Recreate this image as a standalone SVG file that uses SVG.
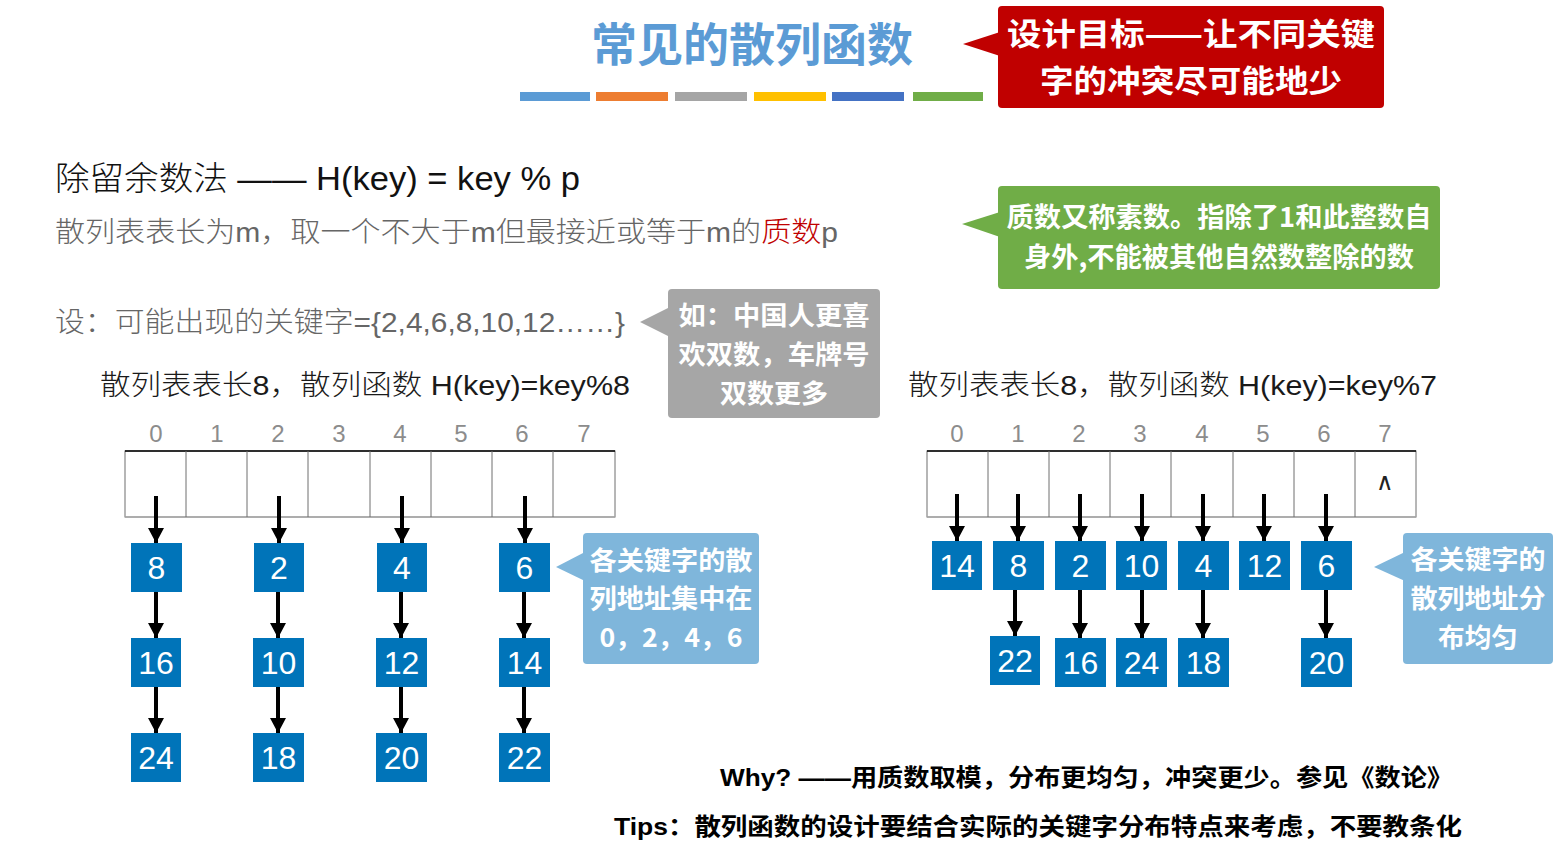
<svg xmlns="http://www.w3.org/2000/svg" width="1560" height="859" viewBox="0 0 1560 859">
<defs>
<marker id="ah" markerUnits="userSpaceOnUse" markerWidth="16" markerHeight="16" refX="15" refY="8" orient="auto">
<path d="M0,0 L15,8 L0,16 z" fill="#000"/>
</marker>
<style>
.cjk{font-family:"Liberation Sans","Noto Sans CJK SC",sans-serif;}
.title{font-family:"Noto Sans CJK SC",sans-serif;font-size:46px;fill:#5B9BD5;font-weight:bold;}
.call{font-family:"Noto Sans CJK SC",sans-serif;font-weight:bold;fill:#fff;text-anchor:middle;}
.idx{font-family:"Liberation Sans",sans-serif;font-size:24px;fill:#8C8C8C;text-anchor:middle;}
.node rect{fill:#0074B9;}
.node text{font-family:"Liberation Sans",sans-serif;font-size:32px;fill:#fff;text-anchor:middle;}
.conn line{stroke:#000;stroke-width:4;marker-end:url(#ah);}
.cell{fill:none;stroke:#6E6E6E;stroke-width:1;}
</style>
</defs>
<rect width="1560" height="859" fill="#fff"/>

<g id="title">
<text class="title" x="752" y="61" text-anchor="middle" textLength="322" lengthAdjust="spacingAndGlyphs">常见的散列函数</text>
<rect x="520" y="92" width="70" height="9" fill="#5B9BD5"/>
<rect x="596" y="92" width="72" height="9" fill="#ED7D31"/>
<rect x="675" y="92" width="72" height="9" fill="#A5A5A5"/>
<rect x="754" y="92" width="72" height="9" fill="#FFC000"/>
<rect x="832" y="92" width="72" height="9" fill="#4472C4"/>
<rect x="913" y="92" width="70" height="9" fill="#70AD47"/>
</g>

<g id="callout-red">
<rect x="998" y="6" width="386" height="102" rx="4" fill="#C00000"/>
<polygon points="963,44 1000,32 1000,56" fill="#C00000"/>
<text class="call" x="1191" y="45" font-size="31" textLength="368" lengthAdjust="spacingAndGlyphs">设计目标——让不同关键</text>
<text class="call" x="1191" y="92" font-size="31" textLength="302" lengthAdjust="spacingAndGlyphs">字的冲突尽可能地少</text>
</g>

<g id="formula">
<text class="cjk" x="55" y="190" font-size="33" fill="#111" font-weight="300" textLength="525" lengthAdjust="spacingAndGlyphs">除留余数法 —— H(key) = key % p</text>
<text class="cjk" x="55" y="242" font-size="28" fill="#666" font-weight="300" textLength="783" lengthAdjust="spacingAndGlyphs">散列表表长为m，取一个不大于m但最接近或等于m的<tspan fill="#C00000">质数</tspan>p</text>
</g>

<g id="callout-green">
<rect x="998" y="186" width="442" height="103" rx="4" fill="#70AD47"/>
<polygon points="962,224 1000,212 1000,237" fill="#70AD47"/>
<text class="call" x="1219" y="227" font-size="27" textLength="425" lengthAdjust="spacingAndGlyphs">质数又称素数。指除了1和此整数自</text>
<text class="call" x="1219" y="267" font-size="27" textLength="390" lengthAdjust="spacingAndGlyphs">身外,不能被其他自然数整除的数</text>
</g>

<g id="keys">
<text class="cjk" x="55" y="332" font-size="28" fill="#666" font-weight="300" textLength="570" lengthAdjust="spacingAndGlyphs">设：可能出现的关键字={2,4,6,8,10,12……}</text>
</g>

<g id="callout-gray">
<rect x="668" y="289" width="212" height="129" rx="4" fill="#A6A6A6"/>
<polygon points="640,322 670,307 670,337" fill="#A6A6A6"/>
<text class="call" x="774" y="325" font-size="26" textLength="191" lengthAdjust="spacingAndGlyphs">如：中国人更喜</text>
<text class="call" x="774" y="364" font-size="26" textLength="191" lengthAdjust="spacingAndGlyphs">欢双数，车牌号</text>
<text class="call" x="774" y="403" font-size="26" textLength="108" lengthAdjust="spacingAndGlyphs">双数更多</text>
</g>

<g id="heading-left">
<text class="cjk" x="100" y="395" font-size="28" fill="#1A1A1A" font-weight="300" textLength="530" lengthAdjust="spacingAndGlyphs">散列表表长8，散列函数 H(key)=key%8</text>
</g>
<g id="heading-right">
<text class="cjk" x="908" y="395" font-size="28" fill="#1A1A1A" font-weight="300" textLength="529" lengthAdjust="spacingAndGlyphs">散列表表长8，散列函数 H(key)=key%7</text>
</g>

<g id="table-left">
<rect class="cell" x="125" y="451" width="490" height="66"/>
<line x1="125" y1="451" x2="615" y2="451" stroke="#000" stroke-width="1.5"/>
<line x1="125" y1="517" x2="615" y2="517" stroke="#AAA" stroke-width="1.5"/>
<path class="cell" d="M186,451V517M247,451V517M308,451V517M370,451V517M431,451V517M492,451V517M553,451V517"/>
<text class="idx" x="156" y="442">0</text>
<text class="idx" x="217" y="442">1</text>
<text class="idx" x="278" y="442">2</text>
<text class="idx" x="339" y="442">3</text>
<text class="idx" x="400" y="442">4</text>
<text class="idx" x="461" y="442">5</text>
<text class="idx" x="522" y="442">6</text>
<text class="idx" x="584" y="442">7</text>
</g>

<g id="table-right">
<rect class="cell" x="927" y="451" width="489" height="66"/>
<line x1="927" y1="451" x2="1416" y2="451" stroke="#000" stroke-width="1.5"/>
<line x1="927" y1="517" x2="1416" y2="517" stroke="#AAA" stroke-width="1.5"/>
<path class="cell" d="M988,451V517M1049,451V517M1110,451V517M1171,451V517M1233,451V517M1294,451V517M1355,451V517"/>
<text class="idx" x="957" y="442">0</text>
<text class="idx" x="1018" y="442">1</text>
<text class="idx" x="1079" y="442">2</text>
<text class="idx" x="1140" y="442">3</text>
<text class="idx" x="1202" y="442">4</text>
<text class="idx" x="1263" y="442">5</text>
<text class="idx" x="1324" y="442">6</text>
<text class="idx" x="1385" y="442">7</text>
<text x="1385" y="490" font-family="DejaVu Sans, sans-serif" font-size="24" font-weight="300" fill="#222" text-anchor="middle">∧</text>
</g>

<g id="connectors" class="conn">
<line x1="156" y1="496" x2="156" y2="543"/>
<line x1="279" y1="496" x2="279" y2="543"/>
<line x1="402" y1="496" x2="402" y2="543"/>
<line x1="525" y1="496" x2="525" y2="543"/>
<line x1="156" y1="592" x2="156" y2="638"/>
<line x1="278" y1="592" x2="278" y2="638"/>
<line x1="401" y1="592" x2="401" y2="638"/>
<line x1="524" y1="592" x2="524" y2="638"/>
<line x1="156" y1="687" x2="156" y2="733"/>
<line x1="278" y1="687" x2="278" y2="733"/>
<line x1="401" y1="687" x2="401" y2="733"/>
<line x1="524" y1="687" x2="524" y2="733"/>
<line x1="957" y1="494" x2="957" y2="541"/>
<line x1="1018" y1="494" x2="1018" y2="541"/>
<line x1="1080" y1="494" x2="1080" y2="541"/>
<line x1="1142" y1="494" x2="1142" y2="541"/>
<line x1="1203" y1="494" x2="1203" y2="541"/>
<line x1="1264" y1="494" x2="1264" y2="541"/>
<line x1="1326" y1="494" x2="1326" y2="541"/>
<line x1="1015" y1="590" x2="1015" y2="636"/>
<line x1="1080" y1="590" x2="1080" y2="638"/>
<line x1="1142" y1="590" x2="1142" y2="638"/>
<line x1="1203" y1="590" x2="1203" y2="638"/>
<line x1="1326" y1="590" x2="1326" y2="638"/>
</g>

<g id="n-l-8" class="node"><rect x="131" y="543" width="51" height="49"/><text x="156.5" y="579">8</text></g>
<g id="n-l-2" class="node"><rect x="254" y="543" width="50" height="49"/><text x="279" y="579">2</text></g>
<g id="n-l-4" class="node"><rect x="377" y="543" width="50" height="49"/><text x="402" y="579">4</text></g>
<g id="n-l-6" class="node"><rect x="499" y="543" width="51" height="49"/><text x="524.5" y="579">6</text></g>
<g id="n-l-16" class="node"><rect x="131" y="638" width="50" height="49"/><text x="156" y="674">16</text></g>
<g id="n-l-10" class="node"><rect x="253" y="638" width="51" height="49"/><text x="278.5" y="674">10</text></g>
<g id="n-l-12" class="node"><rect x="376" y="638" width="51" height="49"/><text x="401.5" y="674">12</text></g>
<g id="n-l-14" class="node"><rect x="499" y="638" width="51" height="49"/><text x="524.5" y="674">14</text></g>
<g id="n-l-24" class="node"><rect x="131" y="733" width="50" height="49"/><text x="156" y="769">24</text></g>
<g id="n-l-18" class="node"><rect x="253" y="733" width="51" height="49"/><text x="278.5" y="769">18</text></g>
<g id="n-l-20" class="node"><rect x="376" y="733" width="51" height="49"/><text x="401.5" y="769">20</text></g>
<g id="n-l-22" class="node"><rect x="499" y="733" width="51" height="49"/><text x="524.5" y="769">22</text></g>

<g id="n-r-14" class="node"><rect x="932" y="541" width="50" height="49"/><text x="957" y="577">14</text></g>
<g id="n-r-8" class="node"><rect x="993" y="541" width="51" height="49"/><text x="1018.5" y="577">8</text></g>
<g id="n-r-2" class="node"><rect x="1055" y="541" width="51" height="49"/><text x="1080.5" y="577">2</text></g>
<g id="n-r-10" class="node"><rect x="1116" y="541" width="51" height="49"/><text x="1141.5" y="577">10</text></g>
<g id="n-r-4" class="node"><rect x="1178" y="541" width="51" height="49"/><text x="1203.5" y="577">4</text></g>
<g id="n-r-12" class="node"><rect x="1239" y="541" width="51" height="49"/><text x="1264.5" y="577">12</text></g>
<g id="n-r-6" class="node"><rect x="1301" y="541" width="51" height="49"/><text x="1326.5" y="577">6</text></g>
<g id="n-r-22" class="node"><rect x="990" y="636" width="50" height="49"/><text x="1015" y="672">22</text></g>
<g id="n-r-16" class="node"><rect x="1055" y="638" width="51" height="49"/><text x="1080.5" y="674">16</text></g>
<g id="n-r-24" class="node"><rect x="1116" y="638" width="51" height="49"/><text x="1141.5" y="674">24</text></g>
<g id="n-r-18" class="node"><rect x="1178" y="638" width="51" height="49"/><text x="1203.5" y="674">18</text></g>
<g id="n-r-20" class="node"><rect x="1301" y="638" width="51" height="49"/><text x="1326.5" y="674">20</text></g>

<g id="callout-blue-left">
<rect x="583" y="533" width="176" height="131" rx="4" fill="#7FB6DB"/>
<polygon points="556,567 585,552 585,581" fill="#7FB6DB"/>
<text class="call" x="671" y="570" font-size="26" textLength="163" lengthAdjust="spacingAndGlyphs">各关键字的散</text>
<text class="call" x="671" y="608" font-size="26" textLength="163" lengthAdjust="spacingAndGlyphs">列地址集中在</text>
<text class="call" x="671" y="647" font-size="26" font-family="Liberation Sans, Noto Sans CJK SC, sans-serif" font-weight="normal" textLength="143" lengthAdjust="spacingAndGlyphs">0，2，4，6</text>
</g>

<g id="callout-blue-right">
<rect x="1403" y="533" width="150" height="131" rx="4" fill="#7FB6DB"/>
<polygon points="1374,567 1405,552 1405,581" fill="#7FB6DB"/>
<text class="call" x="1478" y="569" font-size="26" textLength="135" lengthAdjust="spacingAndGlyphs">各关键字的</text>
<text class="call" x="1478" y="608" font-size="26" textLength="135" lengthAdjust="spacingAndGlyphs">散列地址分</text>
<text class="call" x="1478" y="647" font-size="26" textLength="80" lengthAdjust="spacingAndGlyphs">布均匀</text>
</g>

<g id="notes">
<text class="cjk" x="720" y="786" font-size="24" fill="#000" font-weight="bold" textLength="733" lengthAdjust="spacingAndGlyphs">Why? ——用质数取模，分布更均匀，冲突更少。参见《数论》</text>
<text class="cjk" x="614" y="835" font-size="24" fill="#000" font-weight="bold" textLength="848" lengthAdjust="spacingAndGlyphs">Tips：散列函数的设计要结合实际的关键字分布特点来考虑，不要教条化</text>
</g>
</svg>
